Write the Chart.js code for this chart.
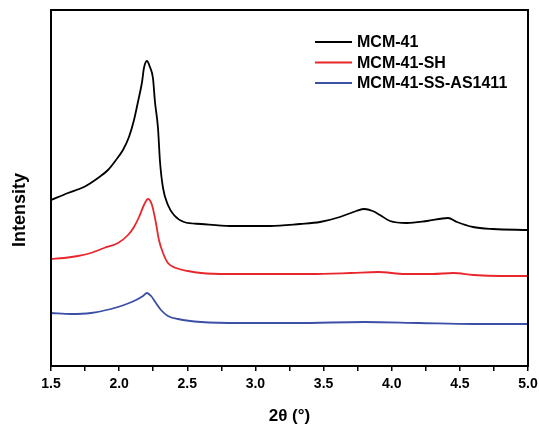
<!DOCTYPE html>
<html>
<head>
<title>XRD patterns</title>
<script src="https://cdn.jsdelivr.net/npm/chart.js"></script>
<style>
 body { margin: 0; background: #fff; }
 #wrap { width: 539px; height: 425px; }
</style>
</head>
<body>
<div id="wrap"><canvas id="xrd"></canvas></div>
<script>
 // 2theta (deg) and intensity (a.u., stacked)
 const mcmX = [1.5, 1.625, 1.742, 1.845, 1.918, 1.977, 2.028, 2.072, 2.109, 2.138, 2.168, 2.182, 2.204, 2.226, 2.248, 2.263, 2.285, 2.3, 2.322, 2.358, 2.402, 2.476, 2.601, 2.813, 3.107, 3.327, 3.474, 3.62, 3.74, 3.8, 3.86, 3.914, 3.987, 4.112, 4.259, 4.413, 4.479, 4.596, 4.743, 5.0];
 const mcmY = [166, 173, 179, 188, 196, 206, 216, 229, 246, 264, 284, 298, 305, 299, 288, 264, 238, 204, 178, 161, 151, 144, 142, 140, 140, 142, 144, 149, 155, 157, 155, 151, 145, 143, 145, 148, 144, 139, 137, 136];

 const shX = [1.5, 1.595, 1.698, 1.793, 1.889, 1.992, 2.065, 2.109, 2.146, 2.182, 2.212, 2.241, 2.27, 2.292, 2.322, 2.358, 2.417, 2.505, 2.601, 2.8, 3.1, 3.4, 3.7, 3.9, 4.1, 4.3, 4.45, 4.6, 4.8, 5.0];
 const shY = [107, 108, 110, 113, 118, 123, 131, 139, 149, 161, 167, 161, 143, 126, 113, 103, 98, 95, 93, 92, 92, 92, 93, 94, 92, 92, 93, 91, 90, 90];

 const asX = [1.5, 1.647, 1.793, 1.94, 2.036, 2.124, 2.175, 2.204, 2.234, 2.27, 2.307, 2.358, 2.432, 2.601, 2.9, 3.3, 3.8, 4.2, 4.6, 5.0];
 const asY = [53, 52, 53, 57, 61, 66, 70, 73, 70, 63, 56, 50, 47, 44, 43, 43, 44, 43, 42, 42];

 const names = ['MCM-41', 'MCM-41-SH', 'MCM-41-SS-AS1411'];
 const colors = ['#000000', '#e8262c', '#3b4fa6'];

 function pts(xs, ys) {
  return xs.map((x, i) => ({ x: x, y: ys[i] }));
 }

 // frame, inside legend and the y title
 const extras = {
  id: 'extras',
  afterDraw(chart) {
   const c = chart.ctx;
   const a = chart.chartArea;
   c.save();
   c.strokeStyle = '#000';
   c.lineWidth = 2;
   c.strokeRect(a.left, a.top, a.right - a.left, a.bottom - a.top);

   c.font = 'bold 16px "Liberation Sans", Arial, sans-serif';
   c.textBaseline = 'middle';
   c.textAlign = 'left';
   chart.data.datasets.forEach((ds, i) => {
    const y = a.top + 32 + i * 20.5;
    const x0 = a.left + 264;
    c.strokeStyle = ds.borderColor;
    c.lineWidth = 1.8;
    c.beginPath();
    c.moveTo(x0, y);
    c.lineTo(x0 + 37, y);
    c.stroke();
    c.fillStyle = '#000';
    c.fillText(ds.label, x0 + 42, y + 1);
   });

   c.translate(20, 210);
   c.rotate(-Math.PI / 2);
   c.textAlign = 'center';
   c.font = 'bold 18px "Liberation Sans", Arial, sans-serif';
   c.fillText('Intensity', 0, 0);
   c.restore();
  }
 };

 const ctx = document.getElementById('xrd').getContext('2d');
 new Chart(ctx, {
  type: 'line',
  data: {
   datasets: [
    { label: names[0], data: pts(mcmX, mcmY), borderColor: colors[0] },
    { label: names[1], data: pts(shX, shY), borderColor: colors[1] },
    { label: names[2], data: pts(asX, asY), borderColor: colors[2] }
   ]
  },
  options: {
   responsive: true,
   maintainAspectRatio: false,
   animation: false,
   layout: { padding: { left: 0, top: 10, right: 11, bottom: 0 } },
   elements: {
    point: { radius: 0 },
    line: { borderWidth: 1.8, cubicInterpolationMode: 'monotone', fill: false }
   },
   plugins: {
    legend: { display: false },
    tooltip: { enabled: false }
   },
   scales: {
    x: {
     type: 'linear',
     min: 1.5,
     max: 5.0,
     afterFit: s => { s.height = 59; s.paddingLeft = 0; s.paddingRight = 0; },
     border: { display: false },
     grid: { drawOnChartArea: false, drawTicks: true, tickLength: 5, color: '#000', lineWidth: 1.5 },
     ticks: {
      stepSize: 0.25,
      autoSkip: false,
      maxRotation: 0,
      padding: 5,
      color: '#000',
      font: { family: '"Liberation Sans", Arial, sans-serif', size: 14, weight: 'bold' },
      callback: v => Math.abs(v * 2 - Math.round(v * 2)) < 1e-6 ? v.toFixed(1) : ''
     },
     title: {
      display: true,
      text: '2θ (°)',
      color: '#000',
      padding: 0,
      font: { family: '"Liberation Sans", Arial, sans-serif', size: 17, weight: 'bold', lineHeight: 1 }
     }
    },
    y: {
     min: 0,
     max: 356,
     afterFit: s => { s.width = 51; },
     border: { display: false },
     grid: { display: false },
     ticks: { display: false }
    }
   }
  },
  plugins: [extras]
 });
</script>
</body>
</html>
